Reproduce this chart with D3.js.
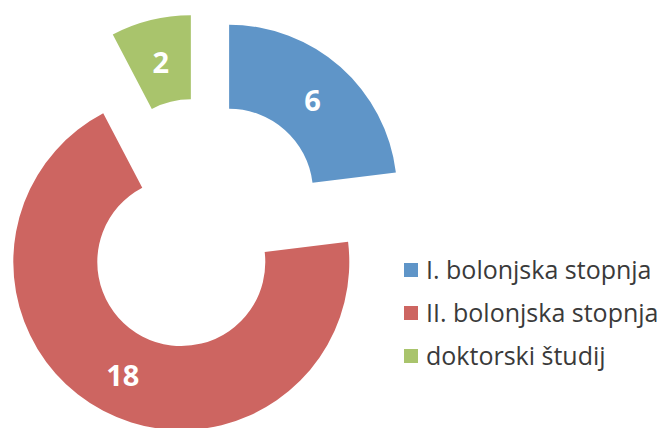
<!DOCTYPE html>
<html>
<head>
<meta charset="utf-8">
<script src="https://cdn.jsdelivr.net/npm/d3@7"></script>
<style>
  body { margin: 0; background: #fff; }
  svg { display: block; }
</style>
</head>
<body>
<div id="chart"></div>
<script>
//// DATA ////
var categories = ["I. bolonjska stopnja", "II. bolonjska stopnja", "doktorski študij"];
var values = [6, 18, 2];
var colors = ["#5f95c8", "#cd6561", "#a9c46c"];

//// SET UP ////
var svgWidth = 662;
var svgHeight = 428;

var center = { x: 201, y: 224.5 };
var outerR = 168;
var innerR = 84;
var explode = 42.4;

var svg = d3.select("#chart")
  .append("svg")
  .attr("width", svgWidth)
  .attr("height", svgHeight);

var data = categories.map(function(c, i) {
  return { name: c, value: values[i], color: colors[i] };
});

var pie = d3.pie()
  .sort(null)
  .value(d => d.value);

var arc = d3.arc()
  .innerRadius(innerR)
  .outerRadius(outerR);

var labelArc = d3.arc()
  .innerRadius((innerR + outerR) / 2)
  .outerRadius((innerR + outerR) / 2);

var chartGroup = svg.append("g")
  .attr("transform", `translate(${center.x}, ${center.y})`);

// each slice pulled out along its middle angle
var slices = chartGroup.selectAll(".slice")
  .data(pie(data))
  .enter()
  .append("g")
  .attr("class", "slice")
  .attr("transform", function(d) {
    var a = (d.startAngle + d.endAngle) / 2;
    return `translate(${explode * Math.sin(a)}, ${-explode * Math.cos(a)})`;
  });

slices.append("path")
  .attr("d", arc)
  .attr("fill", d => d.data.color);

slices.append("text")
  .attr("transform", d => `translate(${labelArc.centroid(d)})`)
  .attr("text-anchor", "middle")
  .attr("dy", "0.42em")
  .attr("font-family", "'Open Sans', sans-serif")
  .attr("font-weight", "bold")
  .attr("font-size", "29px")
  .attr("fill", "#fff")
  .text(d => d.data.value);

//// LEGEND ////
var legendY = d3.scalePoint()
  .domain(categories)
  .range([270, 356]);

var legend = svg.append("g")
  .selectAll("g")
  .data(data)
  .enter()
  .append("g")
  .attr("transform", d => `translate(404, ${legendY(d.name)})`);

legend.append("rect")
  .attr("x", 0)
  .attr("y", -7)
  .attr("width", 14)
  .attr("height", 14)
  .attr("fill", d => d.color);

legend.append("text")
  .attr("x", 22)
  .attr("dy", "0.36em")
  .attr("font-family", "'Open Sans', sans-serif")
  .attr("font-size", "25px")
  .attr("fill", "#3a3a3a")
  .text(d => d.name);
</script>
</body>
</html>
